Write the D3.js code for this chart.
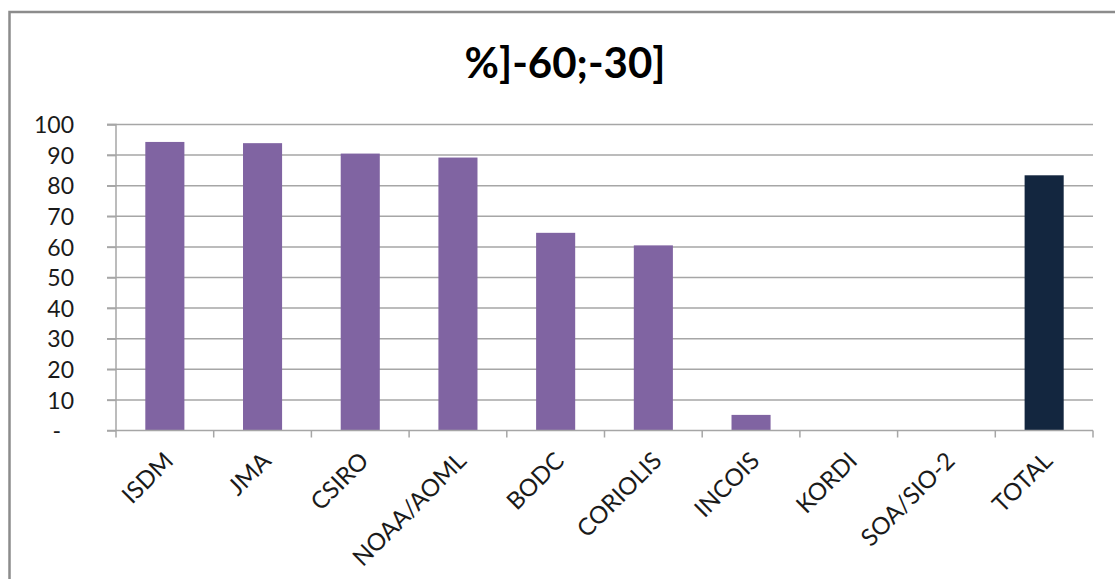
<!DOCTYPE html>
<html>
<head>
<meta charset="utf-8">
<script src="https://cdn.jsdelivr.net/npm/d3@7"></script>
<style>
  html, body { margin: 0; padding: 0; background: #fff; }
  svg { display: block; }
</style>
</head>
<body>
<svg id="chart" width="1115" height="579"></svg>
<script>
const title = "%]-60;-30]";
const categories = ["ISDM", "JMA", "CSIRO", "NOAA/AOML", "BODC", "CORIOLIS", "INCOIS", "KORDI", "SOA/SIO-2", "TOTAL"];
const values = [94.3, 93.9, 90.5, 89.2, 64.6, 60.5, 5.1, 0, 0, 83.4];
const yTicks = [0, 10, 20, 30, 40, 50, 60, 70, 80, 90, 100];
const yTickLabels = ["-", "10", "20", "30", "40", "50", "60", "70", "80", "90", "100"];

const svg = d3.select("#chart");
const W = 1115, H = 579;
const m = { left: 116, right: 1093, top: 124.5, bottom: 430.5 };
const FONT = "Lato, 'Open Sans', sans-serif";

// frame
svg.append("rect").attr("x", 9.5).attr("y", 12).attr("width", W + 20).attr("height", H + 20)
  .attr("fill", "#fff").attr("stroke", "#8c8c8c").attr("stroke-width", 2.5);

// title
svg.append("text").attr("x", 565).attr("y", 78).attr("text-anchor", "middle")
  .attr("font-family", FONT).attr("font-weight", "bold").attr("font-size", 42)
  .attr("fill", "#000").text(title);

const x = d3.scaleBand().domain(categories).range([m.left, m.right]).paddingInner(0).paddingOuter(0);
const y = d3.scaleLinear().domain([0, 100]).range([m.bottom, m.top]);

// gridlines
svg.append("g").selectAll("line").data(yTicks.filter(d => d > 0)).join("line")
  .attr("x1", m.left - 9).attr("x2", m.right)
  .attr("y1", d => y(d)).attr("y2", d => y(d))
  .attr("stroke", "#a6a6a6").attr("stroke-width", 1.5);

// bars
const bw = x.bandwidth() * 0.40;
svg.append("g").selectAll("rect").data(categories).join("rect")
  .attr("x", d => x(d) + (x.bandwidth() - bw) / 2)
  .attr("width", bw)
  .attr("y", (d, i) => y(values[i]))
  .attr("height", (d, i) => y(0) - y(values[i]))
  .attr("fill", d => d === "TOTAL" ? "#13263f" : "#8064a2");

// y axis
const yAxis = d3.axisLeft(y).tickValues(yTicks).tickSize(9).tickFormat((d, i) => yTickLabels[i]);
const gy = svg.append("g").attr("transform", `translate(${m.left},0)`).call(yAxis);
gy.select(".domain").attr("stroke", "#a6a6a6").attr("stroke-width", 1.5).attr("d", `M-9,${m.top}H0V${m.bottom}`);
gy.selectAll(".tick line").attr("stroke", "#a6a6a6").attr("stroke-width", 1.5);
gy.selectAll(".tick text").attr("x", -42).attr("dy", "0.36em")
  .attr("font-family", FONT).attr("font-size", 23).attr("fill", "#1a1a1a")
  .attr("dx", (d) => d === 0 ? -13 : 0);

// x axis
const gx = svg.append("g").attr("transform", `translate(0,${m.bottom})`);
gx.append("line").attr("x1", m.left - 9).attr("x2", m.right).attr("y1", 0).attr("y2", 0)
  .attr("stroke", "#a6a6a6").attr("stroke-width", 1.5);
const bounds = categories.map(c => x(c)).concat([m.right]);
gx.selectAll("line.tk").data(bounds).join("line").attr("class", "tk")
  .attr("x1", d => d).attr("x2", d => d).attr("y1", 0).attr("y2", 7)
  .attr("stroke", "#a6a6a6").attr("stroke-width", 1.5);
gx.selectAll("text").data(categories).join("text")
  .attr("transform", d => `translate(${x(d) + x.bandwidth() / 2 - 2},${20}) rotate(-45)`)
  .attr("text-anchor", "end")
  .attr("dy", "0.7em")
  .attr("font-family", FONT).attr("font-size", 24).attr("fill", "#1a1a1a")
  .text(d => d);
</script>
</body>
</html>
